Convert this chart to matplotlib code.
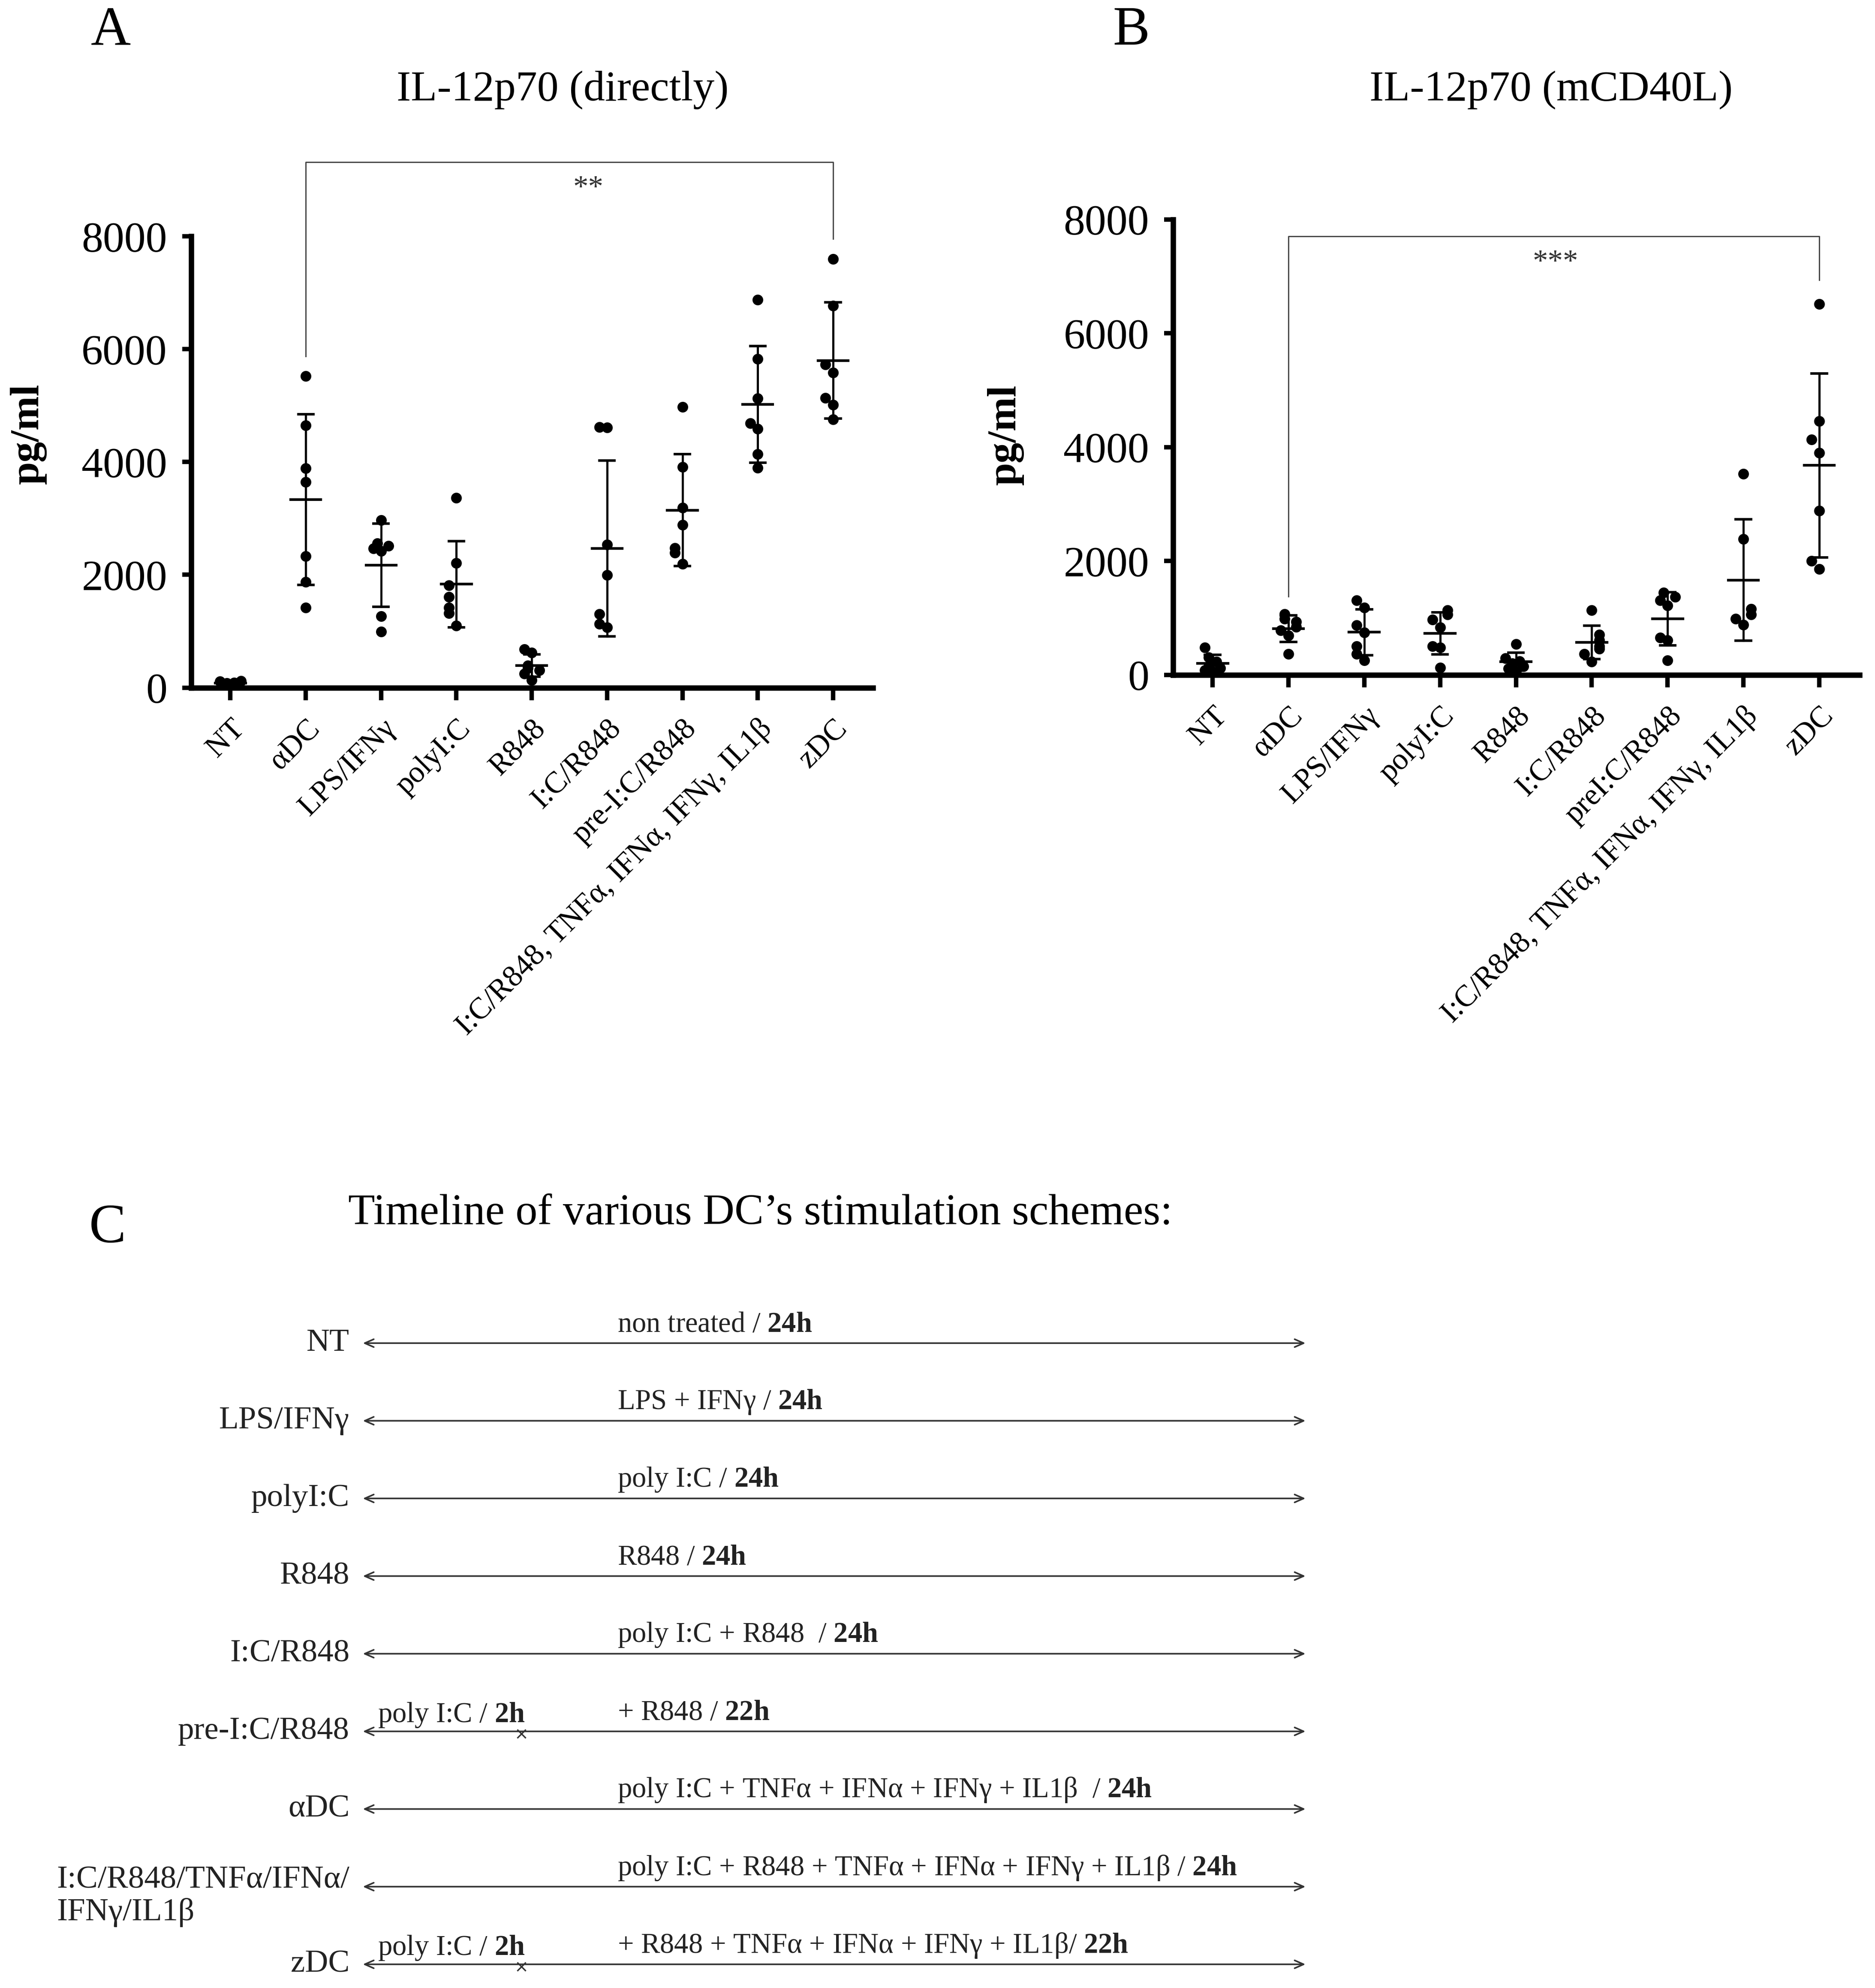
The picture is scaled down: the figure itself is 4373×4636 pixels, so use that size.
import numpy as np
import matplotlib
matplotlib.use("Agg")
import matplotlib.pyplot as plt
from matplotlib.transforms import ScaledTranslation

plt.rcParams["font.family"] = ["Liberation Serif", "DejaVu Serif"]
plt.rcParams["mathtext.fontset"] = "custom"
plt.rcParams["mathtext.rm"] = "Liberation Serif"
plt.rcParams["mathtext.bf"] = "Liberation Serif:bold"

# ---- data -------------------------------------------------------------
groups_a = ["NT", "αDC", "LPS/IFNγ", "polyI:C", "R848", "I:C/R848", "pre-I:C/R848",
            "I:C/R848, TNFα, IFNα, IFNγ, IL1β", "zDC"]
groups_b = ["NT", "αDC", "LPS/IFNγ", "polyI:C", "R848", "I:C/R848", "preI:C/R848",
            "I:C/R848, TNFα, IFNα, IFNγ, IL1β", "zDC"]

values_a = [
    [40, 60, 70, 80, 90, 110, 120],
    [5527, 4648, 3891, 3648, 2333, 1873, 1418],
    [2970, 2560, 2510, 2470, 2420, 1265, 991],
    [3365, 2209, 1812, 1609, 1419, 1320, 1099],
    [680, 620, 390, 350, 310, 250, 130],
    [4620, 4610, 2537, 1996, 1306, 1131, 1069],
    [4978, 3913, 3190, 2886, 2476, 2392, 2194],
    [6873, 5830, 5130, 4689, 4590, 4142, 3896],
    [7600, 6770, 5730, 5586, 5137, 5015, 4757],
]
values_b = [
    [480, 310, 230, 150, 120, 80, 60],
    [1072, 984, 934, 846, 783, 696, 369],
    [1311, 1185, 871, 746, 507, 369, 256],
    [1135, 1060, 972, 834, 507, 482, 130],
    [545, 290, 240, 200, 150, 110, 70],
    [1135, 708, 608, 507, 457, 369, 231],
    [1449, 1373, 1311, 1223, 658, 608, 256],
    [3532, 2384, 1160, 1060, 984, 884],
    [6517, 4456, 4132, 3904, 2883, 2001, 1863],
]

# significance: (group from, group to, label, label x, bracket y, left leg end, right leg end)
sig_a = (1, 8, "**", 4.75, 9320, 5875, 7954)
sig_b = (1, 8, "***", 4.52, 7706, 1381, 6937)

yticks = [0, 2000, 4000, 6000, 8000]

# timeline (panel C)
schemes = ["NT", "LPS/IFNγ", "polyI:C", "R848", "I:C/R848", "pre-I:C/R848", "αDC",
           "I:C/R848/TNFα/IFNα/\nIFNγ/IL1β", "zDC"]
scheme_text = ["non treated / ", "LPS + IFNγ / ", "poly I:C / ", "R848 / ",
               "poly I:C + R848  / ", "+ R848 / ",
               "poly I:C + TNFα + IFNα + IFNγ + IL1β  / ",
               "poly I:C + R848 + TNFα + IFNα + IFNγ + IL1β / ",
               "+ R848 + TNFα + IFNα + IFNγ + IL1β/ "]
scheme_hours = ["24h", "24h", "24h", "24h", "24h", "22h", "24h", "24h", "22h"]
pre_hours = [None, None, None, None, None, "2h", None, None, "2h"]

DODGE = [0, -0.1, 0.1, -0.05, 0.05, -0.14, 0.14]


def spread(vals, thresh=230):
    """Simple dodge so overlapping dots sit side by side."""
    vals = np.asarray(vals, dtype=float)
    order = np.argsort(vals)
    offs = np.zeros(len(vals))
    placed = []
    for i in order:
        k = sum(abs(vals[j] - vals[i]) < thresh for j in placed)
        offs[i] = DODGE[k % len(DODGE)]
        placed.append(i)
    return offs


def dot_plot(ax, groups, values, sig, ylabel_xy):
    for i, vals in enumerate(values):
        vals = np.asarray(vals, dtype=float)
        m, sd = vals.mean(), vals.std(ddof=1)
        ax.scatter(i + spread(vals), vals, s=36, color="black", zorder=3, clip_on=False,
                   linewidths=0)
        ax.plot([i - 0.2, i + 0.2], [m, m], color="black", lw=1.5, zorder=4)
        ax.plot([i, i], [m - sd, m + sd], color="black", lw=1.2, zorder=4)
        for e in (m - sd, m + sd):
            ax.plot([i - 0.1, i + 0.1], [e, e], color="black", lw=1.4, zorder=4)

    g0, g1, lab, xt, yb, yl, yr = sig
    ax.plot([g0, g0, g1, g1], [yl, yb, yb, yr], color="#444444", lw=0.7, clip_on=False)
    ax.text(xt, yb - 230, lab, ha="center", va="top", fontsize=17,
            color="#333333", clip_on=False)

    ax.set_xlim(-0.52, 8.53)
    ax.set_ylim(0, 8000)
    ax.set_yticks(yticks)
    ax.set_xticks(range(len(groups)))
    ax.set_xticklabels(groups, rotation=45, ha="right", va="top",
                       rotation_mode="anchor", fontsize=17)
    off = ScaledTranslation(14 / 72, 0, fig.dpi_scale_trans)
    for t in ax.get_xticklabels():
        t.set_transform(t.get_transform() + off)
    ax.tick_params(axis="y", labelsize=24, length=5, width=2.5, pad=8.5)
    ax.tick_params(axis="x", length=7, width=2.5, pad=8)
    for s in ("top", "right"):
        ax.spines[s].set_visible(False)
    for s in ("left", "bottom"):
        ax.spines[s].set_linewidth(3)
    ax.set_ylabel("pg/ml", fontsize=23, fontweight="bold")
    ax.yaxis.set_label_coords(*ylabel_xy)


fig = plt.figure(figsize=(4373 / 300, 4636 / 300), dpi=300)

ax_a = fig.add_axes([0.102, 0.6541, 0.3636, 0.2270])
dot_plot(ax_a, groups_a, values_a, sig_a, (-0.212, 0.562))
ax_b = fig.add_axes([0.6257, 0.6605, 0.366, 0.2291])
dot_plot(ax_b, groups_b, values_b, sig_b, (-0.218, 0.527))

fig.text(258 / 4373, 1 - 73 / 4636, "A", fontsize=31, ha="center", va="center")
fig.text(2638 / 4373, 1 - 73 / 4636, "B", fontsize=31, ha="center", va="center")
fig.text(1312 / 4373, 1 - 210 / 4636, "IL-12p70 (directly)", fontsize=24,
         ha="center", va="center")
fig.text(3618 / 4373, 1 - 210 / 4636, "IL-12p70 (mCD40L)", fontsize=24,
         ha="center", va="center")

# ---- panel C: timeline -----------------------------------------------
fig.text(251 / 4373, 1 - 2866 / 4636, "C", fontsize=31, ha="center", va="center")
fig.text(1773 / 4373, 1 - 2831 / 4636, "Timeline of various DC\u2019s stimulation schemes:",
         fontsize=24.5, ha="center", va="center")

ax_c = fig.add_axes([0.1935, 0.0002, 0.5028, 0.3437])
ax_c.set_xlim(0, 1)
ax_c.set_ylim(8.3, -0.5)
ax_c.axis("off")
split = 0.168  # schematic position of the 2h pre-stimulation mark

for i, (name, txt, hrs, pre) in enumerate(zip(schemes, scheme_text, scheme_hours, pre_hours)):
    ax_c.annotate("", xy=(1, i), xytext=(0, i),
                  arrowprops=dict(arrowstyle="<->,head_length=0.5,head_width=0.22",
                                  lw=0.9, color="#333333", shrinkA=0, shrinkB=0,
                                  mutation_scale=10),
                  annotation_clip=False)
    if "\n" in name:
        ax_c.text(-0.0141, i - 0.27, name, ha="right", va="top", multialignment="left",
                  fontsize=18, linespacing=1.15, color="#222222")
    else:
        ax_c.text(-0.0141, i, name, ha="right", va="center", fontsize=18, color="#222222")
    ax_c.text(0.27, i - 0.15, txt + r"$\mathbf{" + hrs + "}$", ha="left", va="baseline",
              fontsize=16, color="#222222")
    if pre is not None:
        ax_c.text(0.016, i - 0.12, r"poly I:C / $\mathbf{" + pre + "}$", ha="left",
                  va="baseline", fontsize=16, color="#222222")
        ax_c.plot([split], [i + 0.03], marker="x", ms=5, mew=0.8, color="#333333",
                  clip_on=False)

fig.savefig("out.png", dpi=300, facecolor="white")
